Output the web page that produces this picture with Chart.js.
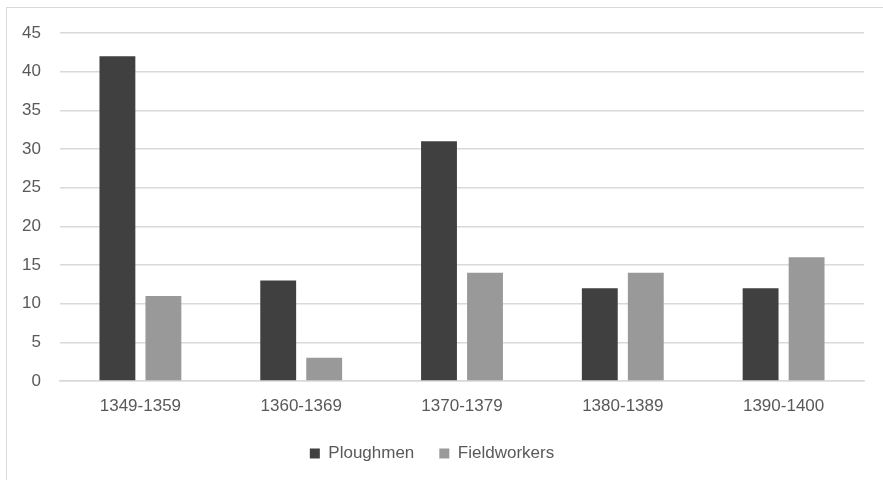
<!doctype html>
<html>
<head>
  <meta charset="utf-8">
  <title>Ploughmen and Fieldworkers</title>
  <script src="https://cdn.jsdelivr.net/npm/chart.js@4.4.1/dist/chart.umd.min.js"></script>
  <style>
    body{margin:0;background:#fff;}
    #frame{position:absolute;left:6px;top:7px;width:900px;height:500px;border:1px solid #d9d9d9;}
    #chart{position:absolute;left:0;top:0;}
  </style>
</head>
<body>
<div id="frame"></div>
<canvas id="chart" width="883" height="480"></canvas>
<script>
// data
const decades      = ['1349-1359','1360-1369','1370-1379','1380-1389','1390-1400'];
const ploughmen    = [42, 13, 31, 12, 12];
const fieldworkers = [11, 3, 14, 14, 16];

const font = {family:"'Liberation Sans', Arial, sans-serif", size:17};

new Chart(document.getElementById('chart'), {
  type: 'bar',
  data: {
    labels: decades,
    datasets: [
      { label:'Ploughmen',    data:ploughmen,    backgroundColor:'#404040' },
      { label:'Fieldworkers', data:fieldworkers, backgroundColor:'#999999' }
    ]
  },
  options: {
    responsive:false,
    animation:false,
    categoryPercentage:0.572,
    barPercentage:0.78,
    layout:{padding:{top:33,right:19,bottom:8,left:0}},
    scales:{
      y:{
        min:0, max:45,
        ticks:{stepSize:5, color:'#595959', font, padding:19},
        grid:{color:'#d9d9d9', lineWidth:1.5, drawTicks:false},
        border:{display:false},
        afterFit:s => { s.width = 60; }
      },
      x:{
        ticks:{color:'#595959', font, padding:15, maxRotation:0},
        grid:{display:false, drawTicks:false},
        border:{color:'#d9d9d9', width:1.5},
        afterFit:s => { s.height = 39; }
      }
    },
    plugins:{
      legend:{
        position:'bottom',
        labels:{color:'#595959', font, boxWidth:10, boxHeight:10, padding:25}
      },
      tooltip:{enabled:false}
    }
  }
});
</script>
</body>
</html>
